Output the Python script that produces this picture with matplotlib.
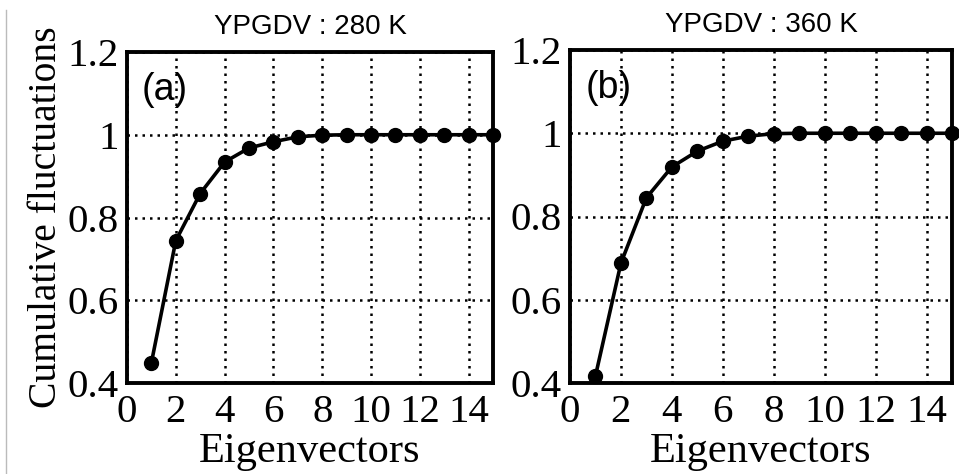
import matplotlib
matplotlib.use("Agg")
import matplotlib.pyplot as plt
from matplotlib.lines import Line2D

# values
eigvec = [1, 2, 3, 4, 5, 6, 7, 8, 9, 10, 11, 12, 13, 14, 15]
cum_280 = [0.449, 0.744, 0.858, 0.934, 0.968, 0.983, 0.995, 0.999,
           1.0, 1.0, 1.0, 1.0, 1.0, 1.0, 1.0]
cum_360 = [0.417, 0.688, 0.845, 0.919, 0.957, 0.981, 0.993, 0.999,
           1.0, 1.0, 1.0, 1.0, 1.0, 1.0, 1.0]
titles = ["YPGDV : 280 K", "YPGDV : 360 K"]
panel_tags = ["(a)", "(b)"]
xticks = [0, 2, 4, 6, 8, 10, 12, 14]
yticks = [0.4, 0.6, 0.8, 1.0, 1.2]
ytick_labels = ["0.4", "0.6", "0.8", "1", "1.2"]

serif = "Liberation Serif"
sans = "Liberation Sans"

fig = plt.figure(figsize=(9.59, 4.74), dpi=100)
# panel positions in figure fractions (left, bottom, width, height)
boxes = [
    (127 / 959, 1 - 383 / 474, 366 / 959, 331 / 474),
    (570 / 959, 1 - 383 / 474, 382 / 959, 333 / 474),
]

for k, (series, box) in enumerate(zip([cum_280, cum_360], boxes)):
    ax = fig.add_axes(box)
    ax.plot(eigvec, series, color="black", lw=2.6, marker="o",
            markersize=10, clip_on=False, zorder=5)
    ax.set_xlim(0, 15)
    ax.set_ylim(0.4, 1.2)
    ax.set_xticks(xticks)
    ax.set_yticks(yticks)
    ax.set_yticklabels(ytick_labels)
    ax.grid(True, color="black", linestyle=(0, (1, 2)), lw=1.8)
    ax.tick_params(length=0)
    ax.tick_params(axis="y", pad=6)
    ax.tick_params(axis="x", pad=8)
    for lab in ax.get_xticklabels() + ax.get_yticklabels():
        lab.set_fontfamily(serif)
        lab.set_fontsize(29.5)
    for s in ax.spines.values():
        s.set_linewidth(2.8)
    ax.set_title(titles[k], fontfamily=sans, fontsize=20, pad=13)
    ax.text(0.04, 0.885, panel_tags[k], transform=ax.transAxes,
            fontfamily=sans, fontsize=27, ha="left", va="center")
    ax.set_xlabel("Eigenvectors", fontfamily=serif, fontsize=30.5, labelpad=1)
    if k == 0:
        ax.set_ylabel("Cumulative fluctuations", fontfamily=serif,
                      fontsize=28.5, labelpad=2)

# thin grey frame line at the left edge of the page
fig.add_artist(Line2D([6 / 959, 6 / 959], [0, 1 - 10 / 474],
                      color="#bbbbbb", lw=1))

plt.savefig("out.png", dpi=100)
plt.close()
